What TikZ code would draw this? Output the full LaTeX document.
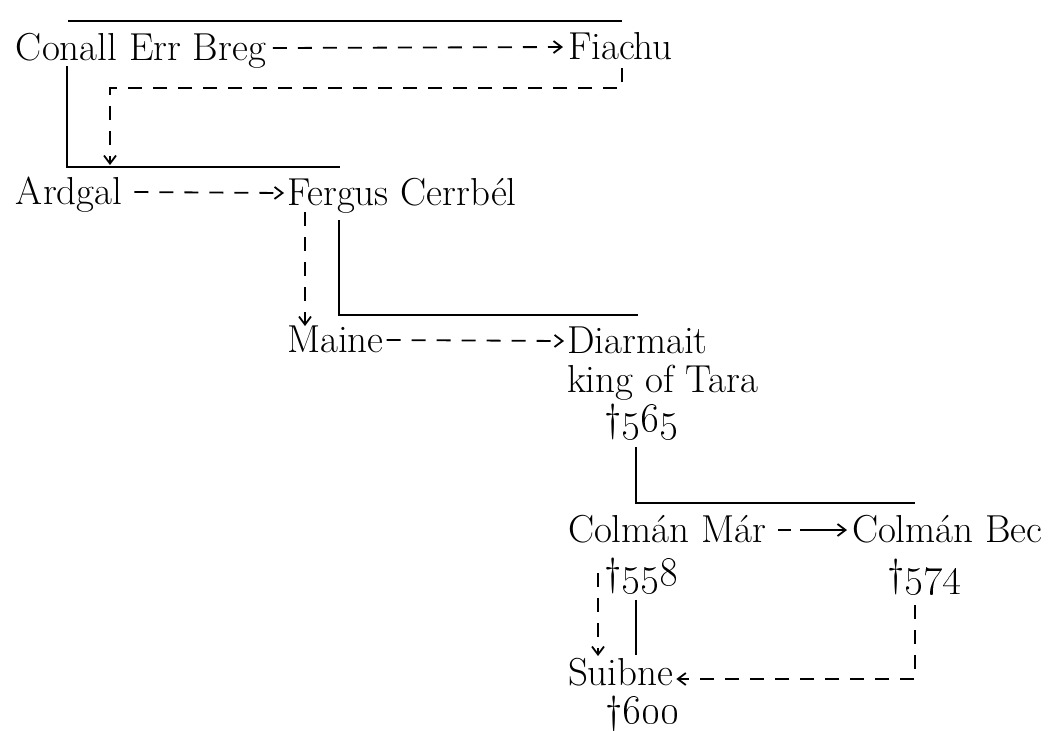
\documentclass[tikz,border=0pt]{standalone}
\usetikzlibrary{arrows.meta}
\begin{document}
\begin{tikzpicture}[x=0.5pt,y=-0.5pt,
  person/.style={anchor=base west, inner sep=0pt, outer sep=0pt, font=\fontsize{19.5}{21}\selectfont},
  tie/.style={line width=1pt},
  dashlink/.style={line width=0.9pt, dash pattern=on 7pt off 5.5pt},
  dasharrow/.style={dashlink, -{Straight Barb[length=4pt,width=6pt]}},
  shortarrow/.style={line width=0.9pt, dash pattern=on 6.5pt off 4.5pt on 40pt off 0pt, -{Straight Barb[length=4pt,width=6pt]}},
]
\useasboundingbox (0,0) rectangle (1053,730);
% people
\node[person] (conall) at (16,60) {Conall Err Breg};
\node[person] (fiachu) at (568,59) {Fiachu};
\node[person] (ardgal) at (16,204) {Ardgal};
\node[person] (fergus) at (287,205) {Fergus Cerrbél};
\node[person] (maine) at (287,352) {Maine};
\node[person] (diarmait) at (567,353) {Diarmait};
\node[person] (diarmaitk) at (567,392) {king of Tara};
\node[person] (diarmaitd) at (604,431) {\textdagger\oldstylenums{565}};
\node[person] (colmar) at (568,542) {Colmán Már};
\node[person] (colmard) at (604,585) {\textdagger\oldstylenums{558}};
\node[person] (colbec) at (852,542) {Colmán Bec};
\node[person] (colbecd) at (887,586) {\textdagger\oldstylenums{574}};
\node[person] (suibne) at (568,685) {Suibne};
\node[person] (suibned) at (605,723) {\textdagger\oldstylenums{600}};
% elbow points
\coordinate (topL) at (68,21);
\coordinate (topR) at (622,21);
\coordinate (c1) at (67,66);
\coordinate (c2) at (340,167);
\coordinate (f1) at (622,68);
\coordinate (f2) at (110,88);
\coordinate (f3) at (110,165);
\coordinate (g1) at (305,212);
\coordinate (g2) at (305,326);
\coordinate (h1) at (339,220);
\coordinate (h2) at (638,315);
\coordinate (d1) at (636,447);
\coordinate (d2) at (915,503);
\coordinate (m1) at (598,573);
\coordinate (m2) at (598,656);
\coordinate (m3) at (636,600);
\coordinate (m4) at (636,655);
\coordinate (b1) at (915,605);
% solid lines
\draw[tie] (topL) -- (topR);
\draw[tie] (c1) |- (c2);
\draw[tie] (h1) |- (h2);
\draw[tie] (d1) |- (d2);
\draw[tie] (m3) -- (m4);
% dashed arrows
\draw[dasharrow] ([shift={(7,-12)}]conall.base east) -- ([shift={(-5,-12)}]fiachu.base west);
\draw[dasharrow] (f1) |- (f2) -- (f3);
\draw[dasharrow] ([shift={(12,-12)}]ardgal.base east) -- ([shift={(-3,-12)}]fergus.base west);
\draw[dasharrow] (g1) -- (g2);
\draw[dasharrow] ([shift={(3,-12)}]maine.base east) -- ([shift={(-3,-12)}]diarmait.base west);
\draw[shortarrow] ([shift={(12,-12)}]colmar.base east) -- ([shift={(-5,-12)}]colbec.base west);
\draw[dasharrow] (m1) -- (m2);
\draw[dasharrow] (b1) |- ([shift={(3,-6)}]suibne.base east);
\end{tikzpicture}
\end{document}
